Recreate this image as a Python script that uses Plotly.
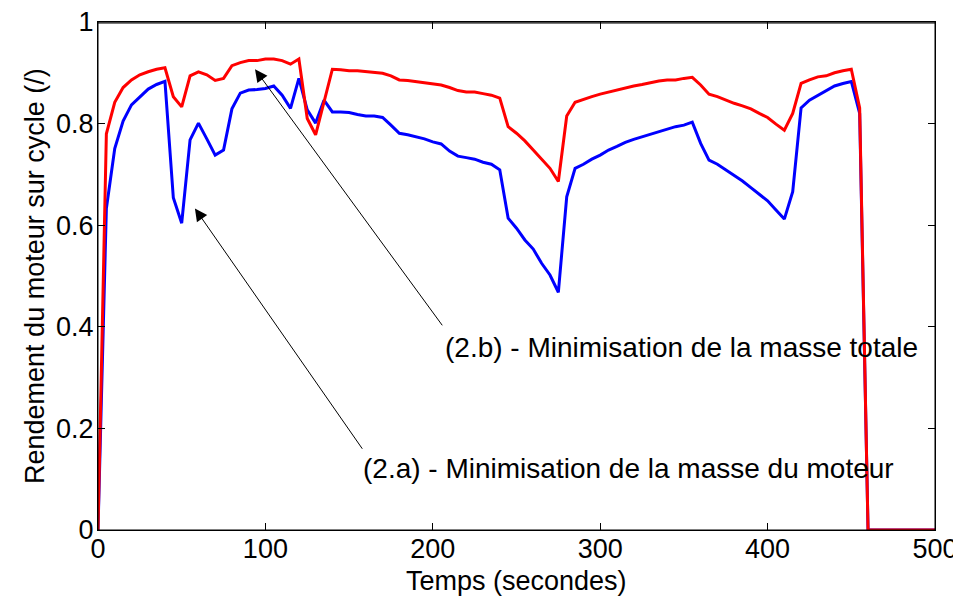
import plotly.graph_objects as go

# Time axis (seconds), sampled every 5 s
temps = list(range(0, 505, 5))

# (2.a) - Minimisation de la masse du moteur (blue)
rendement_moteur = [
    0.0, 0.633, 0.751, 0.805, 0.837, 0.853, 0.868, 0.877, 0.883, 0.654,
    0.604, 0.768, 0.801, 0.770, 0.738, 0.748, 0.829, 0.860, 0.866, 0.867,
    0.869, 0.874, 0.856, 0.830, 0.889, 0.827, 0.801, 0.846, 0.823, 0.823,
    0.822, 0.818, 0.815, 0.815, 0.812, 0.797, 0.781, 0.778, 0.774, 0.770,
    0.764, 0.760, 0.746, 0.736, 0.733, 0.730, 0.724, 0.720, 0.709, 0.614,
    0.594, 0.571, 0.553, 0.525, 0.502, 0.468, 0.656, 0.712, 0.720, 0.730,
    0.738, 0.748, 0.755, 0.763, 0.769, 0.774, 0.780, 0.784, 0.789, 0.794,
    0.797, 0.803, 0.761, 0.728, 0.720, 0.709, 0.697, 0.687, 0.674, 0.661,
    0.648, 0.630, 0.612, 0.666, 0.831, 0.846, 0.855, 0.864, 0.874, 0.879,
    0.883, 0.820, 0.0, 0.0, 0.0, 0.0, 0.0, 0.0, 0.0, 0.0,
    0.0,
]

# (2.b) - Minimisation de la masse totale (red)
rendement_total = [
    0.0, 0.780, 0.842, 0.871, 0.886, 0.896, 0.902, 0.907, 0.910, 0.853,
    0.833, 0.894, 0.902, 0.896, 0.885, 0.889, 0.914, 0.920, 0.924, 0.924,
    0.927, 0.927, 0.924, 0.917, 0.927, 0.810, 0.778, 0.843, 0.907, 0.906,
    0.904, 0.904, 0.902, 0.900, 0.899, 0.894, 0.886, 0.885, 0.883, 0.881,
    0.879, 0.876, 0.871, 0.865, 0.862, 0.862, 0.859, 0.856, 0.850, 0.794,
    0.781, 0.766, 0.748, 0.730, 0.712, 0.686, 0.815, 0.842, 0.848, 0.853,
    0.858, 0.862, 0.866, 0.871, 0.874, 0.877, 0.881, 0.884, 0.886, 0.886,
    0.889, 0.891, 0.876, 0.858, 0.853, 0.846, 0.840, 0.835, 0.829, 0.820,
    0.812, 0.799, 0.787, 0.820, 0.879, 0.886, 0.892, 0.894, 0.900, 0.904,
    0.907, 0.831, 0.0, 0.0, 0.0, 0.0, 0.0, 0.0, 0.0, 0.0,
    0.0,
]

x_ticks = [0, 100, 200, 300, 400, 500]
x_ticklabels = ["0", "100", "200", "300", "400", "500"]
y_ticks = [0, 0.2, 0.4, 0.6, 0.8, 1]
y_ticklabels = ["0", "0.2", "0.4", "0.6", "0.8", "1"]

x_title = "Temps (secondes)"
y_title = "Rendement du moteur sur cycle (/)"
label_a = "(2.a) - Minimisation de la masse du moteur"
label_b = "(2.b) - Minimisation de la masse totale"

FONT = "Liberation Sans, Arial, Helvetica, sans-serif"
FS = 27

fig = go.Figure()
fig.add_trace(go.Scatter(x=temps, y=rendement_moteur, mode="lines",
                         line=dict(color="#0000ff", width=3), name=label_a))
fig.add_trace(go.Scatter(x=temps, y=rendement_total, mode="lines",
                         line=dict(color="#ff0000", width=3), name=label_b))

# Arrows (tip -> tail in data coordinates)
fig.add_annotation(x=93.8, y=0.907, ax=206.3, ay=0.400, xref="x", yref="y",
                   axref="x", ayref="y", showarrow=True, arrowhead=2,
                   arrowsize=2.5, arrowwidth=1, arrowcolor="black", text="",
                   standoff=0)
fig.add_annotation(x=57.9, y=0.633, ax=158.5, ay=0.157, xref="x", yref="y",
                   axref="x", ayref="y", showarrow=True, arrowhead=2,
                   arrowsize=2.5, arrowwidth=1, arrowcolor="black", text="",
                   standoff=0)
# Labels
fig.add_annotation(x=206.0, y=0.360, xref="x", yref="y", text=label_b,
                   showarrow=False, xanchor="left", yanchor="middle",
                   font=dict(family=FONT, size=28, color="black"))
fig.add_annotation(x=157.0, y=0.122, xref="x", yref="y", text=label_a,
                   showarrow=False, xanchor="left", yanchor="middle",
                   font=dict(family=FONT, size=28, color="black"))

# Axis titles placed as paper-referenced text
fig.add_annotation(x=0.5, y=-0.0995, xref="paper", yref="paper", text=x_title,
                   showarrow=False, xanchor="center", yanchor="middle",
                   font=dict(family=FONT, size=FS, color="black"))
fig.add_annotation(x=-0.0753, y=0.5, xref="paper", yref="paper", text=y_title,
                   showarrow=False, xanchor="center", yanchor="middle",
                   textangle=-90,
                   font=dict(family=FONT, size=FS, color="black"))

# Plot frame; the top edge is also drawn as a separate line just inside the top
fig.add_shape(type="rect", xref="paper", yref="paper", x0=0, x1=1, y0=0, y1=1,
              line=dict(color="black", width=1), layer="above")
fig.add_shape(type="line", xref="paper", yref="paper", x0=0, x1=1,
              y0=0.998, y1=0.998,
              line=dict(color="black", width=1), layer="above")

axis_common = dict(showline=True, linecolor="black", linewidth=1,
                   mirror="ticks", ticks="inside", ticklen=7,
                   tickcolor="black", showgrid=False, zeroline=False,
                   tickfont=dict(family=FONT, size=FS, color="black"),
                   ticklabeloverflow="allow", automargin=False)

fig.update_xaxes(range=[0, 500], tickvals=x_ticks, ticktext=x_ticklabels,
                 ticklabelstandoff=-5, **axis_common)
fig.update_yaxes(range=[0, 1], tickvals=y_ticks, ticktext=y_ticklabels,
                 ticklabelstandoff=-2, **axis_common)

# The page body offsets the figure by 8 px; margins compensate for it
fig.update_layout(width=961, height=597,
                  margin=dict(l=90, r=34, t=14, b=75),
                  paper_bgcolor="white", plot_bgcolor="white",
                  showlegend=False,
                  font=dict(family=FONT, size=FS, color="black"))

fig.write_html("out.html", config={"displayModeBar": False})
